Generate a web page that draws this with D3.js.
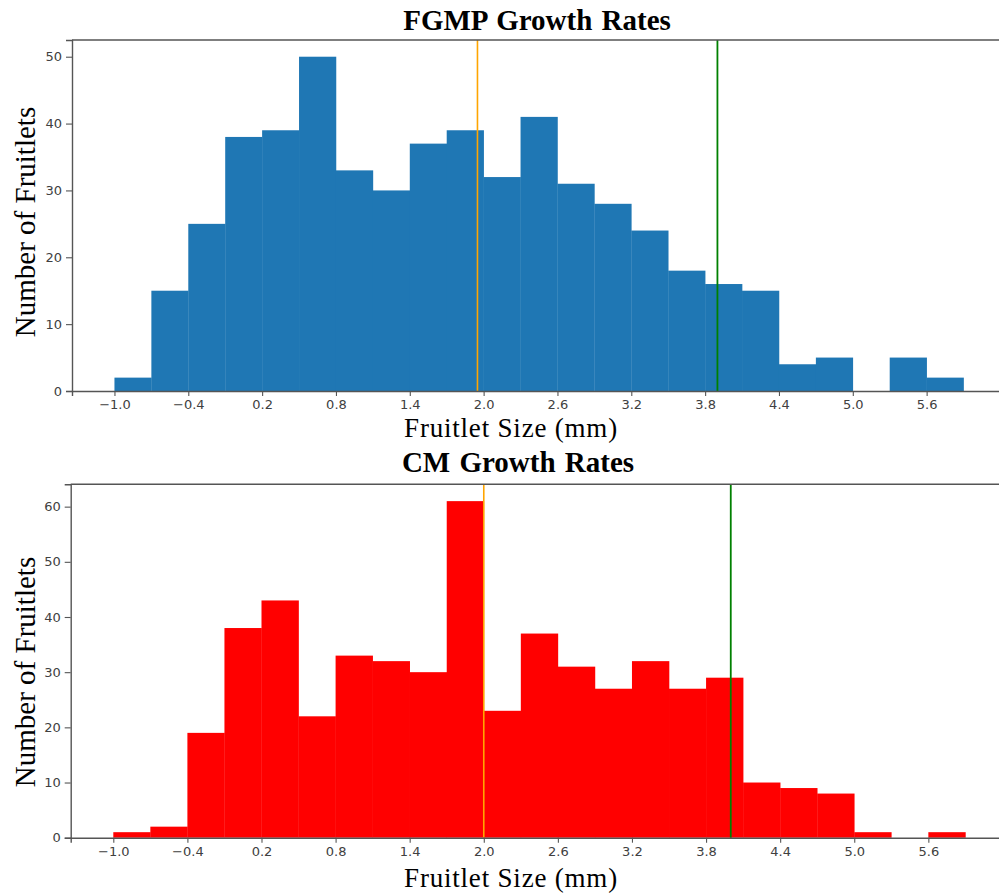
<!DOCTYPE html>
<html>
<head>
<meta charset="utf-8">
<script src="https://cdn.jsdelivr.net/npm/d3@7/dist/d3.min.js"></script>
<style>
  html, body { margin: 0; padding: 0; background: #fff; }
  svg { display: block; }
</style>
</head>
<body>
<svg id="chart" width="999" height="894"></svg>
<script>
// Histogram bin edges (mm), shared by both panels
const binEdges = [-1.0, -0.7, -0.4, -0.1, 0.2, 0.5, 0.8, 1.1, 1.4, 1.7, 2.0, 2.3,
                  2.6, 2.9, 3.2, 3.5, 3.8, 4.1, 4.4, 4.7, 5.0, 5.3, 5.6, 5.9];

// Counts per bin
const fgmpCounts = [2, 15, 25, 38, 39, 50, 33, 30, 37, 39, 32, 41,
                    31, 28, 24, 18, 16, 15, 4, 5, 0, 5, 2];
const cmCounts   = [1, 2, 19, 38, 43, 22, 33, 32, 30, 61, 23, 37,
                    31, 27, 32, 27, 29, 10, 9, 8, 1, 0, 1];

// Reference lines (mm)
const fgmpMarkers = [1.95, 3.9];
const cmMarkers   = [2.0, 4.0];
const markerColors = ["#ffa500", "#008000"];

// Tick values
const xTicks = [-1.0, -0.4, 0.2, 0.8, 1.4, 2.0, 2.6, 3.2, 3.8, 4.4, 5.0, 5.6];
const fgmpYTicks = [0, 10, 20, 30, 40, 50];
const cmYTicks   = [0, 10, 20, 30, 40, 50, 60];

const titles = ["FGMP Growth Rates", "CM Growth Rates"];
const xLabel = "Fruitlet Size (mm)";
const yLabel = "Number of Fruitlets";

const svg = d3.select("#chart");

const panels = [
  { title: titles[0], counts: fgmpCounts, markers: fgmpMarkers, yTicks: fgmpYTicks,
    color: "#1f77b4", left: 72, top: 40, bottom: 391, right: 1006, yMax: 52.5,
    titleX: 537, titleY: 30, xLabelY: 437, yLabelX: 35, yLabelC: 222 },
  { title: titles[1], counts: cmCounts, markers: cmMarkers, yTicks: cmYTicks,
    color: "#ff0000", left: 70.7, top: 484.3, bottom: 837.7, right: 1008, yMax: 64.05,
    titleX: 518, titleY: 472, xLabelY: 887, yLabelX: 35, yLabelC: 672 }
];

const fmt = d3.format(".1f");
const serif = "'Liberation Serif', 'Times New Roman', serif";

panels.forEach(p => {
  const g = svg.append("g");
  const x = d3.scaleLinear().domain([-1.345, 6.245]).range([p.left, p.right]);
  const y = d3.scaleLinear().domain([0, p.yMax]).range([p.bottom, p.top]);

  // bars
  g.append("g").selectAll("rect")
    .data(p.counts)
    .join("rect")
    .attr("x", (d, i) => x(binEdges[i]))
    .attr("width", (d, i) => x(binEdges[i + 1]) - x(binEdges[i]) + 0.3)
    .attr("y", d => y(d))
    .attr("height", d => y(0) - y(d))
    .attr("fill", p.color);

  // reference lines
  g.append("g").selectAll("line")
    .data(p.markers)
    .join("line")
    .attr("x1", d => x(d)).attr("x2", d => x(d))
    .attr("y1", p.top).attr("y2", p.bottom)
    .attr("stroke", (d, i) => markerColors[i])
    .attr("stroke-width", (d, i) => i === 0 ? 1.6 : 1.8);

  // axes
  const xAxis = d3.axisBottom(x).tickValues(xTicks)
    .tickFormat(fmt).tickSizeOuter(0).tickSize(5).tickPadding(4);
  const yAxis = d3.axisLeft(y).tickValues(p.yTicks)
    .tickSizeOuter(0).tickSize(6).tickPadding(4);

  const gx = g.append("g").attr("transform", `translate(0,${p.bottom})`).call(xAxis);
  const gy = g.append("g").attr("transform", `translate(${p.left},0)`).call(yAxis);

  [gx, gy].forEach(a => {
    a.select(".domain").attr("stroke", "#555").attr("stroke-width", 1.4);
    a.selectAll(".tick line").attr("stroke", "#555").attr("stroke-width", 1.1);
    a.selectAll(".tick text")
      .attr("fill", "#404040")
      .style("font-family", "'DejaVu Sans', sans-serif")
      .style("font-size", "13px");
  });

  // top spine
  g.append("line")
    .attr("x1", p.left).attr("x2", 999)
    .attr("y1", p.top).attr("y2", p.top)
    .attr("stroke", "#555").attr("stroke-width", 1.4);

  // title
  g.append("text")
    .attr("x", p.titleX).attr("y", p.titleY)
    .attr("text-anchor", "middle")
    .style("font-family", serif)
    .style("font-weight", "bold")
    .style("font-size", "29px")
    .style("word-spacing", "2px")
    .text(p.title);

  // x label
  g.append("text")
    .attr("x", 511).attr("y", p.xLabelY)
    .attr("text-anchor", "middle")
    .style("font-family", serif)
    .style("font-size", "27px")
    .style("letter-spacing", "0.8px")
    .text(xLabel);

  // y label
  g.append("text")
    .attr("transform", `translate(${p.yLabelX},${p.yLabelC}) rotate(-90)`)
    .attr("text-anchor", "middle")
    .style("font-family", serif)
    .style("font-size", "29px")
    .text(yLabel);
});
</script>
</body>
</html>
